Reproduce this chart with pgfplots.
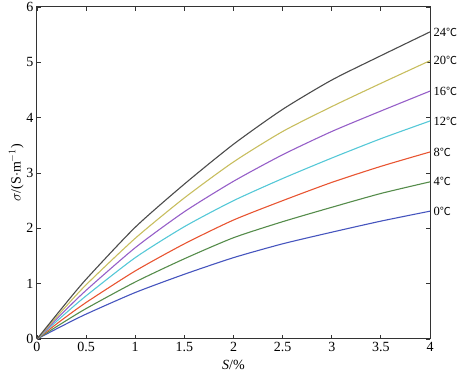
\documentclass[border=0pt]{standalone}
\usepackage{fontspec}
\setmainfont{Liberation Serif}
\newfontfamily\cjk{Noto Sans CJK SC}
\usepackage{pgfplots}
\pgfplotsset{compat=1.18}
\definecolor{c0}{RGB}{70,85,190}
\definecolor{c4}{RGB}{85,140,75}
\definecolor{c8}{RGB}{232,85,50}
\definecolor{c12}{RGB}{85,200,215}
\definecolor{c16}{RGB}{150,95,200}
\definecolor{c20}{RGB}{200,190,95}
\definecolor{c24}{RGB}{75,75,75}
\newcommand{\fs}{\fontsize{14}{16}\selectfont}
\newcommand{\fl}{\fontsize{12.5}{14}\selectfont}
\newcommand{\degC}{{\cjk\fontsize{11}{12}\selectfont ℃}}
\begin{document}
\begin{tikzpicture}
\begin{axis}[name=ax,
  scale only axis, width=393pt, height=332pt,
  xmin=0, xmax=4, ymin=0, ymax=6,
  xtick={0,0.5,...,4}, ytick={0,1,...,6},
  xticklabels={0,0.5,1,1.5,2,2.5,3,3.5,4},
  tick align=inside, tick pos=both,
  major tick length=4pt,
  axis line style={line width=1pt, black!80},
  every tick/.style={black!80, line width=0.9pt},
  /pgf/number format/assume math mode=true,
  tick label style={font=\fs},
  label style={font=\fs},
  xlabel={\textit{S}/\%},
  ylabel={$\sigma$/(S$\cdot$m$^{-1}$)},
  xlabel style={yshift=-1pt},
  ylabel style={yshift=-4pt},
  clip=false,
  every axis plot/.append style={line width=1.1pt, no marks, smooth, tension=0.4},
]
\addplot[c0] coordinates {(0,0) (0.25,0.23) (0.5,0.45) (1,0.84) (1.5,1.17) (2,1.47) (2.5,1.72) (3,1.93) (3.5,2.13) (4,2.31)}
  node[pos=1, anchor=west, xshift=1pt, inner sep=2pt, font=\fl, black] {0\degC};
\addplot[c4] coordinates {(0,0) (0.25,0.28) (0.5,0.55) (1,1.03) (1.5,1.45) (2,1.83) (2.5,2.12) (3,2.38) (3.5,2.63) (4,2.84)}
  node[pos=1, anchor=west, xshift=1pt, inner sep=2pt, font=\fl, black] {4\degC};
\addplot[c8] coordinates {(0,0) (0.25,0.34) (0.5,0.66) (1,1.23) (1.5,1.72) (2,2.15) (2.5,2.5) (3,2.83) (3.5,3.12) (4,3.38)}
  node[pos=1, anchor=west, xshift=1pt, inner sep=2pt, font=\fl, black] {8\degC};
\addplot[c12] coordinates {(0,0) (0.25,0.4) (0.5,0.78) (1,1.47) (1.5,2.03) (2,2.5) (2.5,2.9) (3,3.27) (3.5,3.62) (4,3.94)}
  node[pos=1, anchor=west, xshift=1pt, inner sep=2pt, font=\fl, black] {12\degC};
\addplot[c16] coordinates {(0,0) (0.25,0.45) (0.5,0.88) (1,1.65) (1.5,2.3) (2,2.85) (2.5,3.33) (3,3.75) (3.5,4.12) (4,4.48)}
  node[pos=1, anchor=west, xshift=1pt, inner sep=2pt, font=\fl, black] {16\degC};
\addplot[c20] coordinates {(0,0) (0.25,0.5) (0.5,0.98) (1,1.82) (1.5,2.55) (2,3.2) (2.5,3.75) (3,4.2) (3.5,4.62) (4,5.03)}
  node[pos=1, anchor=west, xshift=1pt, inner sep=2pt, font=\fl, black] {20\degC};
\addplot[c24] coordinates {(0,0) (0.25,0.55) (0.5,1.08) (1,2.02) (1.5,2.8) (2,3.52) (2.5,4.15) (3,4.68) (3.5,5.12) (4,5.55)}
  node[pos=1, anchor=west, xshift=1pt, inner sep=2pt, font=\fl, black] {24\degC};
\end{axis}
\pgfresetboundingbox
\useasboundingbox ([xshift=-37pt,yshift=-40pt]ax.south west) rectangle ([xshift=31pt,yshift=7pt]ax.north east);
\end{tikzpicture}
\end{document}
